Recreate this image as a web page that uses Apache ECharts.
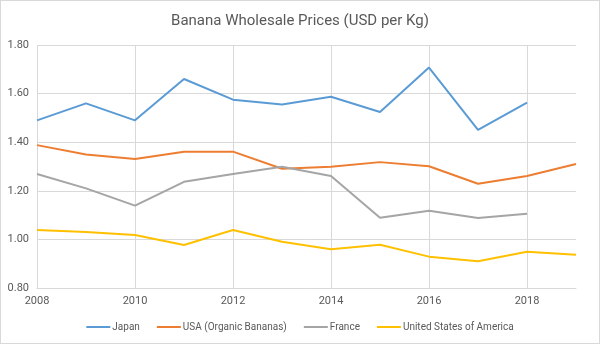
<!DOCTYPE html>
<html>
<head>
<meta charset="utf-8">
<script src="https://cdn.jsdelivr.net/npm/echarts@6/dist/echarts.min.js"></script>
<style>
  html, body { margin: 0; padding: 0; background: #fff; }
  #chart { width: 598px; height: 342px; border: 1px solid #d9d9d9; }
</style>
</head>
<body>
<div id="chart"></div>
<script>
const years = ['2008', '2009', '2010', '2011', '2012', '2013', '2014', '2015', '2016', '2017', '2018', '2019']
const japan = [1.49, 1.56, 1.49, 1.66, 1.575, 1.555, 1.587, 1.524, 1.707, 1.451, 1.563, null]
const usaOrganic = [1.388, 1.349, 1.331, 1.361, 1.361, 1.291, 1.299, 1.318, 1.301, 1.229, 1.261, 1.31]
const france = [1.269, 1.21, 1.139, 1.237, 1.269, 1.299, 1.261, 1.089, 1.118, 1.088, 1.106, null]
const usa = [1.039, 1.03, 1.018, 0.977, 1.039, 0.99, 0.959, 0.978, 0.929, 0.91, 0.949, 0.937]

const font = 'Roboto, "Liberation Sans", sans-serif'
const textColor = '#595959'
const gridColor = '#d9d9d9'

const chart = echarts.init(document.getElementById('chart'))

const makeLine = (name, data, color) => ({
  name,
  type: 'line',
  data,
  symbol: 'none',
  connectNulls: false,
  lineStyle: { color, width: 2 },
  itemStyle: { color },
})

chart.setOption({
  animation: false,
  textStyle: { fontFamily: font },
  title: {
    text: 'Banana Wholesale Prices (USD per Kg)',
    left: 'center',
    top: 8,
    textStyle: { fontFamily: font, fontSize: 15, fontWeight: 'normal', color: textColor },
  },
  grid: { left: 36, right: 23, top: 44, bottom: 55 },
  legend: {
    bottom: 6,
    left: 'center',
    icon: 'rect',
    itemWidth: 24,
    itemHeight: 2,
    itemGap: 17,
    textStyle: { fontFamily: font, fontSize: 10, color: textColor, padding: [0, 0, 0, -3] },
  },
  xAxis: {
    type: 'category',
    data: years,
    boundaryGap: false,
    axisLine: { lineStyle: { color: gridColor } },
    axisTick: { show: false },
    axisLabel: { interval: 1, color: textColor, fontSize: 11, margin: 8 },
    splitLine: { show: true, interval: 1, lineStyle: { color: gridColor } },
  },
  yAxis: {
    type: 'value',
    min: 0.8,
    max: 1.8,
    interval: 0.2,
    axisLine: { show: false },
    axisTick: { show: false },
    axisLabel: { color: textColor, fontSize: 11, formatter: (v) => v.toFixed(2) },
    splitLine: { lineStyle: { color: gridColor } },
  },
  series: [
    makeLine('Japan', japan, '#5B9BD5'),
    makeLine('USA (Organic Bananas)', usaOrganic, '#ED7D31'),
    makeLine('France', france, '#A5A5A5'),
    makeLine('United States of America', usa, '#FFC000'),
  ],
})
</script>
</body>
</html>
